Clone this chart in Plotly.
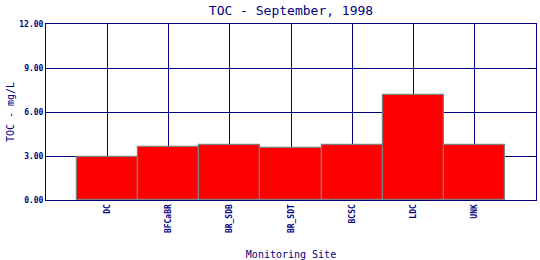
import plotly.graph_objects as go

sites = ["DC", "BFCaBR", "BR_SDB", "BR_SDT", "BCSC", "LDC", "UNK"]
toc = [2.93, 3.61, 3.77, 3.52, 3.73, 7.14, 3.73]
y_ticks = [0, 3, 6, 9, 12]
y_tick_labels = ["0.00", "3.00", "6.00", "9.00", "12.00"]

navy = "#000080"
mono = "DejaVu Sans Mono"

fig = go.Figure()
fig.add_trace(go.Bar(
    x=list(range(len(sites))), y=toc, width=1.0,
    marker=dict(color="#ff0000", line=dict(color="#808080", width=1.2)),
))

fig.update_layout(
    width=540, height=260,
    margin=dict(l=46, r=4, t=24, b=60),
    paper_bgcolor="white", plot_bgcolor="white",
    showlegend=False,
    bargap=0,
    title=dict(text="TOC - September, 1998", x=(46 + 536) / 2 / 540, xanchor="center",
               y=1 - 10 / 260, yanchor="middle",
               font=dict(family=mono, size=13, color=navy)),
)
fig.update_xaxes(
    range=[-1, 7], tickmode="array", tickvals=list(range(len(sites))),
    ticktext=["<b>%s</b>" % s for s in sites],
    tickangle=-90, tickfont=dict(family=mono, size=8, color=navy),
    showgrid=True, gridcolor=navy, gridwidth=1,
    showline=True, linecolor=navy, linewidth=1, mirror=True,
    ticks="", zeroline=False, automargin=False,
    title=dict(text="Monitoring Site", font=dict(family=mono, size=10, color=navy), standoff=18),
)
fig.update_yaxes(
    range=[0, 12], tickmode="array", tickvals=y_ticks,
    ticktext=["<b>%s</b>" % s for s in y_tick_labels],
    tickfont=dict(family=mono, size=8, color=navy),
    showgrid=True, gridcolor=navy, gridwidth=1,
    showline=True, linecolor=navy, linewidth=1, mirror=True,
    ticks="", zeroline=False, automargin=False,
    title=dict(text="TOC - mg/L", font=dict(family=mono, size=10, color=navy), standoff=2),
)

fig.write_html("out.html")
